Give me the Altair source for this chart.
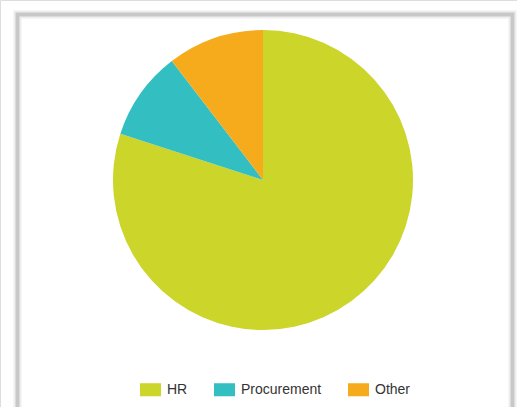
import altair as alt
import pandas as pd

categories = ["HR", "Procurement", "Other"]
values = [80.0, 9.6, 10.4]
colors = ["#cbd52a", "#33bec2", "#f6ab1d"]

df = pd.DataFrame({"category": categories, "value": values, "idx": list(range(len(categories)))})

frame_shadow = alt.Chart(pd.DataFrame({"a": [0]})).mark_rect(
    fillOpacity=0, stroke="#eeeeee", strokeWidth=8
).encode(x=alt.value(17.5), x2=alt.value(512.5), y=alt.value(14.5), y2=alt.value(430))

frame = alt.Chart(pd.DataFrame({"a": [0]})).mark_rect(
    fillOpacity=0, stroke="#c8c8c8", strokeWidth=4
).encode(x=alt.value(17.5), x2=alt.value(512.5), y=alt.value(14.5), y2=alt.value(430))

pie = alt.Chart(df).mark_arc(radius=150, stroke=None).encode(
    theta=alt.Theta("value:Q", stack=True),
    order=alt.Order("idx:Q"),
    color=alt.Color(
        "category:N",
        scale=alt.Scale(domain=categories, range=colors),
        legend=alt.Legend(
            title=None,
            orient="none",
            legendX=140,
            legendY=379,
            direction="horizontal",
            columns=3,
            symbolType="M-1,-0.62L1,-0.62L1,0.62L-1,0.62Z",
            symbolSize=441,
            symbolStrokeWidth=0,
            symbolOpacity=1,
            labelOffset=6,
            columnPadding=26,
            labelFont="Liberation Sans",
            labelFontSize=14,
            labelColor="#333333",
        ),
    ),
    x=alt.value(263),
    y=alt.value(180),
)

chart = alt.layer(frame_shadow, frame, pie).properties(
    width=517, height=407, padding=0, autosize=alt.AutoSizeParams(type="none")
).configure_view(stroke=None).configure(background="white")

chart.save("out.html", embed_options={"renderer": "svg", "actions": False})
